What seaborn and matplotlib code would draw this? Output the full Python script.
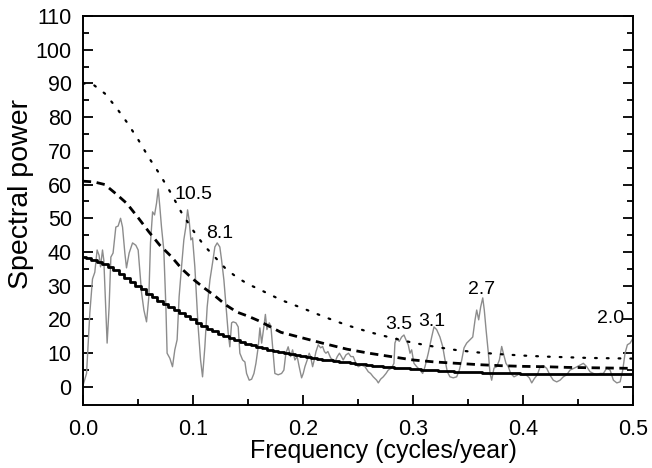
import numpy as np
import pandas as pd
import matplotlib
matplotlib.use("Agg")
import matplotlib.pyplot as plt
import seaborn as sns

# spectrum: frequency in cycles/year, spectral power
freq = [0.0003, 0.0034, 0.0064, 0.0088, 0.0109, 0.0130, 0.0148, 0.0161, 0.0179, 0.0191,
        0.0221, 0.0239, 0.0255, 0.0275, 0.0300, 0.0321, 0.0343, 0.0361, 0.0382, 0.0397,
        0.0421, 0.0452, 0.0482, 0.0503, 0.0534, 0.0555, 0.0579, 0.0600, 0.0615, 0.0634,
        0.0652, 0.0670, 0.0685, 0.0700, 0.0715, 0.0736, 0.0755, 0.0766, 0.0791, 0.0815,
        0.0836, 0.0857, 0.0875, 0.0897, 0.0918, 0.0936, 0.0952, 0.0966, 0.0982, 0.0997,
        0.1018, 0.1048, 0.1070, 0.1088, 0.1109, 0.1130, 0.1155, 0.1179, 0.1200, 0.1221,
        0.1245, 0.1261, 0.1282, 0.1306, 0.1321, 0.1336, 0.1352, 0.1366, 0.1391, 0.1412,
        0.1427, 0.1452, 0.1473, 0.1488, 0.1512, 0.1534, 0.1555, 0.1573, 0.1594, 0.1609,
        0.1625, 0.1645, 0.1659, 0.1673, 0.1694, 0.1709, 0.1730, 0.1745, 0.1775, 0.1806,
        0.1827, 0.1845, 0.1866, 0.1888, 0.1906, 0.1927, 0.1948, 0.1966, 0.1988, 0.2003,
        0.2018, 0.2039, 0.2057, 0.2070, 0.2088, 0.2103, 0.2118, 0.2139, 0.2161, 0.2179,
        0.2195, 0.2209, 0.2227, 0.2252, 0.2273, 0.2291, 0.2312, 0.2332, 0.2350, 0.2366,
        0.2391, 0.2414, 0.2436, 0.2457, 0.2482, 0.2503, 0.2532, 0.2564, 0.2594, 0.2615,
        0.2639, 0.2670, 0.2685, 0.2706, 0.2730, 0.2755, 0.2775, 0.2806, 0.2827, 0.2836,
        0.2852, 0.2875, 0.2897, 0.2918, 0.2936, 0.2957, 0.2973, 0.2988, 0.3009, 0.3034,
        0.3064, 0.3088, 0.3109, 0.3139, 0.3170, 0.3191, 0.3215, 0.3245, 0.3270, 0.3291,
        0.3312, 0.3336, 0.3366, 0.3397, 0.3421, 0.3443, 0.3464, 0.3488, 0.3518, 0.3543,
        0.3564, 0.3579, 0.3597, 0.3615, 0.3634, 0.3648, 0.3664, 0.3685, 0.3700, 0.3715,
        0.3736, 0.3761, 0.3785, 0.3806, 0.3821, 0.3845, 0.3866, 0.3888, 0.3918, 0.3948,
        0.3973, 0.4003, 0.4027, 0.4057, 0.4079, 0.4103, 0.4130, 0.4155, 0.4185, 0.4215,
        0.4245, 0.4275, 0.4306, 0.4336, 0.4366, 0.4397, 0.4427, 0.4473, 0.4518, 0.4548,
        0.4579, 0.4609, 0.4639, 0.4670, 0.4700, 0.4730, 0.4761, 0.4791, 0.4821, 0.4852,
        0.4882, 0.4906, 0.4927, 0.4948, 0.4973, 0.5000]
power = [0.6, 4, 22, 32, 34, 40.6, 39, 35.6, 40.6, 37.6,
         13, 23.7, 38.5, 39.7, 47.4, 47.7, 50, 47.4, 39.7, 35.3,
         39.7, 42.7, 42, 40.6, 27.9, 22.8, 19.3, 26.7, 42.7, 51.9,
         51, 54.5, 58.7, 53.4, 47.4, 40.6, 23.7, 10, 8.5, 6,
         11, 14, 26.7, 35.6, 43.6, 47.4, 52.5, 49.5, 43.6, 44.2,
         35.6, 17.8, 8, 3, 11.9, 23.7, 31.7, 36.8, 41.5, 42.7,
         41.5, 37.6, 31.7, 21.9, 16, 11.9, 19, 19.3, 19, 17.8,
         10, 8, 7.4, 4, 2, 2.3, 4, 7, 11.9, 17.5,
         13, 17.8, 21.5, 17, 19, 18, 10, 4, 3.6, 4,
         5, 10, 11.9, 9, 11, 8, 9, 6, 2.7, 4,
         6, 8, 10, 9, 6, 8, 10.4, 12.5, 11.6, 12,
         10.5, 10, 10.5, 8.6, 8, 7.4, 9, 10, 9, 8,
         9.5, 10, 9, 9, 7, 6, 6.5, 6, 4.5, 4,
         3, 2, 1.2, 2.3, 3, 4, 5, 5.6, 7, 13,
         14.5, 13.5, 14.8, 15.4, 14, 12.5, 10, 11, 7, 6,
         5, 4, 6, 10, 14.8, 17.8, 17, 14.8, 12, 8,
         4.5, 3, 2.7, 3, 5, 8, 11.6, 13, 14, 14.8,
         19.9, 22.8, 19.9, 23.7, 26.4, 22.8, 17, 10, 4, 2,
         5.6, 6, 8, 12, 10, 7, 6, 4, 3, 3.5,
         4, 3.5, 3.6, 2.7, 1.2, 2.5, 3.6, 6, 6.3, 5.5,
         3.5, 2, 1.5, 2, 3, 3.6, 5, 5.7, 6.5, 7,
         6, 4.5, 4, 3.6, 4, 4, 5.6, 5, 2, 1.2,
         1.5, 5, 10, 12.5, 13, 14.5]

# confidence curves (read at regular frequencies)
conf_freq = [0.0, 0.01, 0.02, 0.03, 0.04, 0.05, 0.06, 0.07, 0.08, 0.09, 0.10,
             0.11, 0.12, 0.13, 0.14, 0.15, 0.16, 0.18, 0.20, 0.22, 0.24, 0.26,
             0.28, 0.30, 0.32, 0.34, 0.36, 0.38, 0.40, 0.42, 0.44, 0.46, 0.48, 0.50]
dotted_99 = [90, 89.5, 87, 83, 78.5, 73.5, 68, 63, 57.5, 51.5, 46.5,
             42, 38.5, 35, 32.5, 30.5, 29, 25.8, 23.3, 20.7, 18.3, 16.3,
             14.6, 13.1, 11.9, 10.9, 10.2, 9.7, 9.3, 9.0, 8.8, 8.6, 8.5, 8.4]
dashed_95 = [61, 60.8, 60, 57.3, 54.4, 50.3, 46, 42, 38.8, 35, 32,
             29.4, 27, 24.3, 22.2, 21, 19.6, 16.2, 14.5, 12.8, 11.2, 10,
             9, 8, 7.4, 7, 6.6, 6.3, 6.1, 6.0, 5.8, 5.7, 5.6, 5.5]

# red-noise background (stepped), every 0.005 cycles/year
bg_freq = [round(i * 0.005, 3) for i in range(101)]
background = [38.5, 38.2, 37.7, 37.1, 36.5, 35.6, 34.6, 33.5, 32.4, 31.2,
              30.0, 28.9, 27.7, 26.6, 25.6, 24.6, 23.7, 22.8, 21.8, 20.9,
              20.0, 19.1, 18.2, 17.3, 16.5, 15.8, 15.1, 14.5, 13.9, 13.3,
              12.8, 12.3, 11.9, 11.5, 11.1, 10.7, 10.3, 10.0, 9.7, 9.4,
              9.1, 8.8, 8.5, 8.3, 8.1, 7.9, 7.7, 7.5, 7.3, 7.1,
              6.9, 6.7, 6.5, 6.3, 6.2, 6.0, 5.9, 5.7, 5.6, 5.5,
              5.3, 5.2, 5.1, 5.0, 4.9, 4.8, 4.7, 4.6, 4.5, 4.5,
              4.4, 4.3, 4.3, 4.2, 4.2, 4.1, 4.1, 4.0, 4.0, 4.0,
              3.9, 3.9, 3.9, 3.9, 3.9, 3.8, 3.8, 3.8, 3.8, 3.8,
              3.8, 3.8, 3.8, 3.8, 3.8, 3.8, 3.8, 3.8, 3.8, 3.8, 3.8]

peak_labels = ["10.5", "8.1", "3.5", "3.1", "2.7", "2.0"]
peak_x = [0.101, 0.1245, 0.287, 0.317, 0.3627, 0.4795]
peak_y = [57.2, 45.4, 18.4, 19.3, 29.0, 20.2]

sns.set_style("ticks", rc={"text.color": "black", "axes.labelcolor": "black",
                           "xtick.color": "black", "ytick.color": "black",
                           "axes.edgecolor": "black"})
plt.rcParams["font.family"] = ["Liberation Sans", "DejaVu Sans"]

fig, ax = plt.subplots(figsize=(6.52, 4.68), dpi=100)
fig.subplots_adjust(left=0.127, right=0.971, bottom=0.135, top=0.966)

spec = pd.DataFrame({"f": freq, "p": power})
sns.lineplot(data=spec, x="f", y="p", ax=ax, color="#8c8c8c", linewidth=1.0, sort=False)
sns.lineplot(x=conf_freq, y=dotted_99, ax=ax, color="black", linewidth=1.6,
             linestyle=(0, (0.8, 4.5)), dash_capstyle="round")
sns.lineplot(x=conf_freq, y=dashed_95, ax=ax, color="black", linewidth=2.0,
             linestyle=(0, (3, 2)))
sns.lineplot(x=bg_freq, y=background, ax=ax, color="black", linewidth=2.0,
             drawstyle="steps-mid")

for lab, x, y in zip(peak_labels, peak_x, peak_y):
    ax.text(x, y, lab, ha="center", va="center", fontsize=14)

ax.set_xlim(0, 0.5)
ax.set_ylim(-5.3, 110)
ax.set_xticks(np.arange(0, 0.51, 0.1))
ax.set_xticks(np.arange(0, 0.51, 0.05), minor=True)
ax.set_yticks(np.arange(0, 111, 10))
ax.set_yticks(np.arange(0, 111, 5), minor=True)
ax.set_xticklabels(["0.0", "0.1", "0.2", "0.3", "0.4", "0.5"])
ax.tick_params(which="both", direction="in", left=True, right=True, top=False,
               bottom=True, width=1.3, labelsize=15.5)
ax.tick_params(axis="y", which="both", pad=8)
ax.tick_params(axis="x", which="both", pad=10)
ax.tick_params(which="major", length=7)
ax.tick_params(which="minor", length=4)
for s in ax.spines.values():
    s.set_linewidth(1.4)
    s.set_visible(True)

ax.set_xlabel("Frequency (cycles/year)", fontsize=18)
ax.set_ylabel("Spectral power", fontsize=20.5)
ax.xaxis.set_label_coords(0.547, -0.088)
ax.yaxis.set_label_coords(-0.088, 0.542)

fig.savefig("out.png", dpi=100)
